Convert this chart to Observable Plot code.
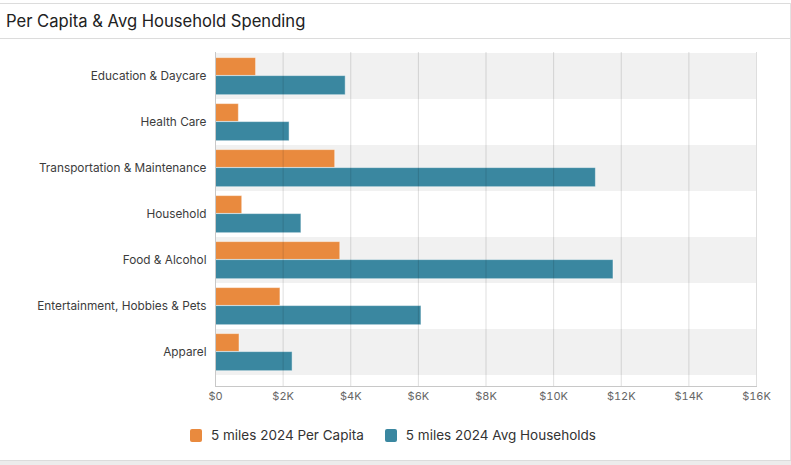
<!DOCTYPE html>
<html>
<head>
<meta charset="utf-8">
<script src="https://cdn.jsdelivr.net/npm/d3@7"></script>
<script src="https://cdn.jsdelivr.net/npm/@observablehq/plot@0.6"></script>
<style>
  html, body { margin: 0; padding: 0; background: #fff; }
  body { width: 791px; height: 465px; position: relative; overflow: hidden; font-family: Inter, "Noto Sans", sans-serif; }
  .topline { position: absolute; left: 0; top: 3px; width: 791px; height: 1px; background: #dcdcdc; }
  .sep { position: absolute; left: 0; top: 38px; width: 791px; height: 1px; background: #dcdcdc; }
  .rightline { position: absolute; left: 790px; top: 3px; width: 1px; height: 458px; background: #e2e2e2; }
  .bottom { position: absolute; left: 0; top: 460px; width: 791px; height: 5px; background: #ececec; border-top: 1px solid #dcdcdc; }
  .title { position: absolute; left: 6px; top: 10.5px; font-size: 16.6px; line-height: 20px; color: #222; white-space: nowrap; }
  #chart { position: absolute; left: 0; top: 0; }
  .legend { position: absolute; top: 428px; left: 190px; display: flex; align-items: center; font-size: 13.5px; color: #333; line-height: 14px; white-space: nowrap; }
  .legend .item { display: flex; align-items: center; margin-right: 21px; }
  .legend .sw { width: 12px; height: 13px; border-radius: 2px; margin-right: 9px; }
</style>
</head>
<body>
<div class="topline"></div>
<div class="title">Per Capita &amp; Avg Household Spending</div>
<div class="sep"></div>
<div id="chart"></div>
<div class="legend" id="legend"></div>
<div class="rightline"></div>
<div class="bottom"></div>
<script>
const categories = [
  "Education & Daycare",
  "Health Care",
  "Transportation & Maintenance",
  "Household",
  "Food & Alcohol",
  "Entertainment, Hobbies & Pets",
  "Apparel"
];
const seriesNames = ["5 miles 2024 Per Capita", "5 miles 2024 Avg Households"];
const perCapita = [1200, 690, 3540, 790, 3690, 1920, 710];
const avgHouseholds = [3850, 2190, 11250, 2540, 11770, 6090, 2280];
const xTicks = [0, 2000, 4000, 6000, 8000, 10000, 12000, 14000, 16000];
const xTickLabels = ["$0", "$2K", "$4K", "$6K", "$8K", "$10K", "$12K", "$14K", "$16K"];
const colors = ["#E98A3E", "#3A87A0"];

const rows = [];
categories.forEach((c, i) => {
  rows.push({category: c, series: seriesNames[0], value: perCapita[i]});
  rows.push({category: c, series: seriesNames[1], value: avgHouseholds[i]});
});
const shaded = categories.filter((c, i) => i % 2 === 0);
const xMax = xTicks[xTicks.length - 1];

const chart = Plot.plot({
  width: 791,
  height: 420,
  marginTop: 52,
  marginBottom: 34,
  marginLeft: 215,
  marginRight: 35,
  style: {fontFamily: "Inter, 'Noto Sans', sans-serif", fontSize: "11px", background: "transparent"},
  x: {domain: [0, xMax]},
  y: {type: "band", domain: categories, range: [52.4, 376], padding: 0},
  color: {domain: seriesNames, range: colors},
  marks: [
    Plot.barX(shaded, {y: d => d, x1: 0, x2: xMax, fill: "#f1f1f1", insetTop: 0, insetBottom: 0}),
    Plot.barX(rows.filter(d => d.series === seriesNames[0]), {
      y: "category", x: "value", fill: "series",
      insetTop: 4.6, insetBottom: 23.6,
      stroke: "#ffffff", strokeOpacity: 0.45, strokeWidth: 1
    }),
    Plot.barX(rows.filter(d => d.series === seriesNames[1]), {
      y: "category", x: "value", fill: "series",
      insetTop: 22.6, insetBottom: 4.3,
      stroke: "#ffffff", strokeOpacity: 0.45, strokeWidth: 1
    }),
    Plot.gridX(xTicks.slice(1), {stroke: "#000", strokeOpacity: 0.13, strokeWidth: 1}),
    Plot.ruleX([0], {stroke: "#c8c8c8", strokeWidth: 1}),
    Plot.frame({anchor: "bottom", stroke: "#c8c8c8", strokeWidth: 1}),
    Plot.axisX({
      ticks: xTicks,
      tickFormat: (d, i) => xTickLabels[xTicks.indexOf(d)],
      tickSize: 0, tickPadding: 6, fill: "#666", label: null
    }),
    Plot.axisY({tickSize: 0, tickPadding: 9, fill: "#3c3c3c", fontSize: 11.8, label: null})
  ]
});
document.getElementById("chart").appendChild(chart);

const legend = document.getElementById("legend");
seriesNames.forEach((s, i) => {
  const item = document.createElement("div");
  item.className = "item";
  const sw = document.createElement("div");
  sw.className = "sw";
  sw.style.background = colors[i];
  const t = document.createElement("span");
  t.textContent = s;
  item.appendChild(sw);
  item.appendChild(t);
  legend.appendChild(item);
});
</script>
</body>
</html>
